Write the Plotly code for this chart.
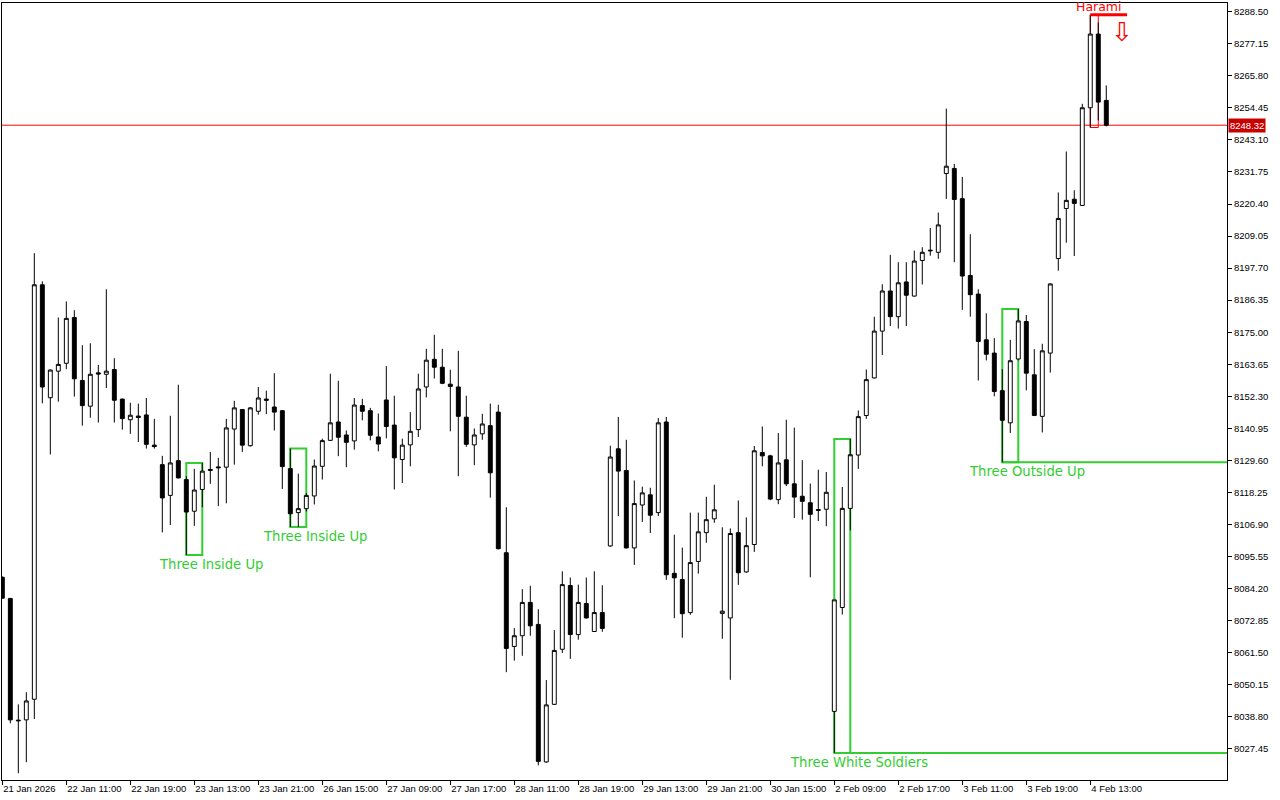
import plotly.graph_objects as go

# ---------------- data (hourly candles, index 0..138) ----------------
opens = [8088.2, 8080.7, 8037.6, 8037.7, 8045.0, 8191.8, 8151.8, 8161.2, 8164.0, 8180.2,
         8157.9, 8148.8, 8160.6, 8160.1, 8161.8, 8151.3, 8144.0, 8145.3, 8145.7, 8135.0,
         8128.1, 8117.2, 8129.5, 8122.8, 8111.6, 8119.3, 8126.4, 8127.3, 8127.2, 8140.7,
         8147.6, 8134.8, 8147.0, 8151.3, 8148.5, 8147.2, 8126.7, 8111.1, 8112.5, 8117.0,
         8127.5, 8136.7, 8143.2, 8138.6, 8136.5, 8149.0, 8147.2, 8137.9, 8151.0, 8142.1,
         8129.9, 8135.1, 8140.5, 8155.6, 8165.4, 8162.6, 8156.6, 8155.6, 8144.9, 8135.1,
         8139.0, 8141.9, 8146.7, 8096.9, 8063.7, 8067.5, 8079.3, 8071.5, 8022.8, 8043.2,
         8062.7, 8085.3, 8067.9, 8078.9, 8069.0, 8075.7, 8099.3, 8133.7, 8126.0, 8098.6,
         8113.8, 8117.4, 8111.1, 8143.2, 8089.6, 8087.4, 8075.7, 8093.8, 8104.0, 8108.9,
         8075.4, 8073.8, 8104.0, 8090.1, 8099.8, 8132.4, 8131.2, 8115.7, 8129.8, 8121.3,
         8116.9, 8114.6, 8112.2, 8112.3, 8040.7, 8077.5, 8112.6, 8131.5, 8145.5, 8158.8,
         8175.4, 8189.6, 8180.5, 8192.8, 8187.8, 8200.4, 8203.8, 8203.3, 8231.2, 8233.0,
         8222.3, 8195.1, 8188.5, 8172.3, 8167.6, 8154.3, 8142.9, 8165.5, 8178.8, 8159.9,
         8145.2, 8167.6, 8201.1, 8218.8, 8222.1, 8219.9, 8254.5, 8280.6, 8257.1]
highs = [8088.5, 8080.9, 8043.2, 8047.5, 8203.0, 8193.0, 8161.8, 8180.2, 8185.9, 8182.8,
         8170.4, 8171.1, 8163.4, 8190.2, 8165.8, 8151.5, 8150.0, 8149.7, 8151.7, 8144.3,
         8131.2, 8145.4, 8156.4, 8124.0, 8126.6, 8128.7, 8132.6, 8130.5, 8144.3, 8150.7,
         8147.8, 8148.5, 8155.6, 8154.3, 8160.5, 8147.4, 8133.8, 8124.9, 8118.0, 8129.9,
         8137.3, 8160.3, 8157.8, 8140.2, 8151.7, 8151.4, 8148.2, 8146.2, 8163.0, 8152.5,
         8137.3, 8146.7, 8160.3, 8169.1, 8174.1, 8169.1, 8161.7, 8168.4, 8152.5, 8140.9,
         8146.1, 8149.7, 8149.3, 8113.0, 8070.2, 8084.0, 8085.2, 8076.9, 8051.8, 8069.5,
         8090.3, 8088.1, 8085.6, 8088.1, 8090.3, 8085.4, 8134.8, 8145.0, 8136.9, 8122.5,
         8120.3, 8119.9, 8144.6, 8145.0, 8103.3, 8098.7, 8111.1, 8111.1, 8116.7, 8121.0,
         8105.9, 8105.5, 8115.4, 8109.4, 8134.7, 8141.6, 8131.6, 8139.3, 8144.0, 8141.2,
         8129.7, 8121.4, 8126.3, 8125.5, 8080.2, 8120.2, 8137.2, 8147.3, 8161.8, 8180.5,
         8192.0, 8202.4, 8199.8, 8199.8, 8203.9, 8205.1, 8211.9, 8217.4, 8254.2, 8234.6,
         8230.0, 8209.7, 8190.2, 8181.7, 8172.9, 8161.9, 8172.3, 8183.2, 8181.1, 8169.0,
         8170.9, 8192.3, 8224.5, 8239.0, 8225.3, 8255.9, 8287.4, 8284.7, 8262.4]
lows = [8080.6, 8036.5, 8018.8, 8022.7, 8038.0, 8149.8, 8131.7, 8150.4, 8161.9, 8152.2,
        8141.9, 8144.7, 8143.0, 8155.2, 8143.0, 8140.5, 8139.0, 8136.1, 8133.8, 8133.8,
        8104.1, 8106.7, 8123.2, 8096.1, 8106.4, 8113.0, 8121.3, 8113.4, 8114.4, 8128.1,
        8132.6, 8134.5, 8145.8, 8146.0, 8140.2, 8119.5, 8106.0, 8106.0, 8111.5, 8114.0,
        8122.8, 8136.5, 8131.1, 8127.2, 8133.4, 8143.8, 8136.7, 8132.8, 8137.4, 8119.3,
        8121.6, 8127.5, 8137.9, 8151.9, 8158.6, 8156.6, 8139.9, 8124.0, 8134.4, 8127.9,
        8136.9, 8116.4, 8098.1, 8054.6, 8058.7, 8060.4, 8067.5, 8021.6, 8022.5, 8043.0,
        8061.4, 8059.3, 8066.1, 8073.6, 8068.8, 8068.9, 8099.0, 8109.9, 8098.4, 8092.6,
        8107.8, 8103.9, 8109.9, 8087.3, 8073.7, 8066.8, 8074.9, 8089.5, 8100.4, 8107.5,
        8066.4, 8051.9, 8085.5, 8089.8, 8097.2, 8127.5, 8115.5, 8114.1, 8120.5, 8109.2,
        8108.6, 8088.2, 8108.1, 8106.3, 8026.0, 8075.0, 8104.8, 8126.6, 8144.3, 8158.6,
        8166.9, 8177.2, 8176.3, 8177.2, 8187.6, 8191.9, 8202.1, 8201.0, 8222.2, 8199.8,
        8182.9, 8180.5, 8157.9, 8165.0, 8152.3, 8128.9, 8139.3, 8165.0, 8154.4, 8145.3,
        8139.5, 8160.7, 8196.8, 8206.7, 8202.0, 8219.8, 8247.5, 8250.0, 8247.9]
closes = [8080.8, 8037.7, 8037.4, 8044.4, 8191.8, 8155.6, 8161.6, 8163.6, 8179.9, 8158.5,
          8149.0, 8160.1, 8160.2, 8161.2, 8150.9, 8144.4, 8145.6, 8144.8, 8135.3, 8134.5,
          8116.3, 8128.7, 8123.4, 8111.3, 8119.1, 8125.8, 8126.1, 8127.0, 8141.1, 8148.2,
          8135.0, 8148.2, 8151.7, 8150.9, 8146.7, 8127.4, 8110.7, 8112.5, 8117.2, 8127.6,
          8136.6, 8142.9, 8137.8, 8136.0, 8149.2, 8147.0, 8138.5, 8135.4, 8141.6, 8130.5,
          8135.0, 8139.9, 8154.9, 8165.1, 8162.6, 8156.9, 8155.8, 8145.2, 8135.3, 8138.6,
          8142.5, 8125.2, 8098.3, 8063.0, 8067.5, 8079.3, 8071.0, 8023.0, 8043.0, 8062.3,
          8085.6, 8067.9, 8079.3, 8073.8, 8075.7, 8070.1, 8130.8, 8125.8, 8098.6, 8114.3,
          8118.1, 8110.2, 8142.9, 8089.1, 8088.0, 8075.3, 8093.4, 8104.3, 8108.6, 8112.1,
          8076.2, 8103.7, 8089.8, 8099.4, 8133.0, 8131.2, 8115.9, 8128.7, 8121.3, 8116.6,
          8115.1, 8110.5, 8111.9, 8118.3, 8080.2, 8112.6, 8131.6, 8145.1, 8158.2, 8175.4,
          8189.6, 8180.5, 8192.5, 8188.1, 8200.2, 8203.3, 8204.0, 8213.0, 8233.8, 8222.0,
          8194.9, 8188.3, 8171.7, 8167.2, 8154.0, 8143.8, 8164.9, 8179.0, 8160.5, 8145.5,
          8168.4, 8192.1, 8215.3, 8221.7, 8220.6, 8254.5, 8280.6, 8256.5, 8248.32]

x_tick_labels = ["21 Jan 2026", "22 Jan 11:00", "22 Jan 19:00", "23 Jan 13:00", "23 Jan 21:00",
                 "26 Jan 15:00", "27 Jan 09:00", "27 Jan 17:00", "28 Jan 11:00", "28 Jan 19:00",
                 "29 Jan 13:00", "29 Jan 21:00", "30 Jan 15:00", "2 Feb 09:00", "2 Feb 17:00",
                 "3 Feb 11:00", "3 Feb 19:00", "4 Feb 13:00"]
x_tick_every = 8

y_tick_labels = ["8288.50", "8277.15", "8265.80", "8254.45", "8243.10", "8231.75", "8220.40",
                 "8209.05", "8197.70", "8186.35", "8175.00", "8163.65", "8152.30", "8140.95",
                 "8129.60", "8118.25", "8106.90", "8095.55", "8084.20", "8072.85", "8061.50",
                 "8050.15", "8038.80", "8027.45"]

last_price = 8248.32

# candlestick patterns: (name, first index, last index, bullish, extend bottom line)
patterns = [
    ("Three Inside Up", 23, 25, True, False),
    ("Three Inside Up", 36, 38, True, False),
    ("Three White Soldiers", 104, 106, True, True),
    ("Three Outside Up", 125, 127, True, True),
    ("Harami", 136, 137, False, False),
]

# ---------------- figure ----------------
idx = list(range(len(opens)))
X_RANGE = [-0.04, 153.09]
Y_RANGE = [8016.4, 8291.6]
GREEN = "#32CD32"
RED = "#FF0000"

fig = go.Figure()
fig.add_trace(go.Candlestick(
    x=idx, open=opens, high=highs, low=lows, close=closes,
    increasing=dict(fillcolor="white", line=dict(color="black", width=1)),
    decreasing=dict(fillcolor="black", line=dict(color="black", width=1)),
    whiskerwidth=0, showlegend=False, hoverinfo="skip",
))

shapes = []
annotations = []

# last price line
shapes.append(dict(type="line", xref="paper", x0=0, x1=1, yref="y", y0=last_price, y1=last_price,
                   line=dict(color=RED, width=1), layer="below"))
annotations.append(dict(xref="paper", x=1, xanchor="left", xshift=1, yref="y", y=last_price,
                        yanchor="middle", text=f"{last_price:.2f}", showarrow=False,
                        bgcolor="#C80000", borderpad=1,
                        font=dict(family="Liberation Sans", size=9.5, color="white")))

for name, a, b, bull, extend in patterns:
    top = max(highs[a:b + 1])
    bot = min(lows[a:b + 1])
    if bull:
        shapes.append(dict(type="rect", xref="x", yref="y", x0=a, x1=b, y0=bot, y1=top,
                           line=dict(color=GREEN, width=2), layer="below"))
        if extend:
            shapes.append(dict(type="line", xref="x", yref="y", x0=a, x1=X_RANGE[1], y0=bot, y1=bot,
                               line=dict(color=GREEN, width=2), layer="below"))
        mid = (a + b) / 2
        annotations.append(dict(x=mid, y=bot, xref="x", yref="y", xanchor="center", yanchor="top",
                                xshift=17, yshift=0, text=name, showarrow=False,
                                font=dict(family="DejaVu Sans", size=13.2, color=GREEN)))
    else:
        shapes.append(dict(type="rect", xref="x", yref="y", x0=a, x1=b, y0=bot, y1=top,
                           line=dict(color=RED, width=1), layer="below"))
        shapes.append(dict(type="line", xref="x", yref="y", x0=a, x1=b + 3.6, y0=top, y1=top,
                           line=dict(color=RED, width=3)))
        annotations.append(dict(x=(a + b) / 2, y=top, xref="x", yref="y", xanchor="center",
                                yanchor="bottom", xshift=5, yshift=-1, text=name, showarrow=False,
                                font=dict(family="DejaVu Sans", size=12.5, color=RED)))
        annotations.append(dict(x=b + 3, y=top, xref="x", yref="y", xanchor="center",
                                yanchor="top", yshift=0, text="⇩", showarrow=False,
                                font=dict(family="DejaVu Sans", size=26, color=RED)))

fig.update_layout(
    width=1280, height=800,
    margin=dict(l=2, r=53, t=3, b=20),
    paper_bgcolor="white", plot_bgcolor="white",
    shapes=shapes, annotations=annotations,
    showlegend=False,
    font=dict(family="Liberation Sans", size=9.5, color="black"),
    xaxis=dict(
        range=X_RANGE, rangeslider=dict(visible=False),
        showgrid=False, zeroline=False,
        showline=True, mirror=True, linecolor="black", linewidth=1,
        tickmode="array", tickvals=idx[::x_tick_every][:len(x_tick_labels)], ticktext=x_tick_labels,
        ticks="outside", ticklen=4, tickcolor="black", tickwidth=1,
        ticklabelposition="outside right",
        tickfont=dict(family="Liberation Sans", size=9.5, color="black"),
    ),
    yaxis=dict(
        range=Y_RANGE, side="right",
        showgrid=False, zeroline=False,
        showline=True, mirror=True, linecolor="black", linewidth=1,
        tickmode="array", tickvals=[float(v) for v in y_tick_labels], ticktext=y_tick_labels,
        ticks="outside", ticklen=4, tickcolor="black", tickwidth=1,
        tickfont=dict(family="Liberation Sans", size=9.5, color="black"),
    ),
)

fig.write_html("out.html", config={"displayModeBar": False},
               post_script="document.body.style.margin='0';document.body.style.overflow='hidden';")
